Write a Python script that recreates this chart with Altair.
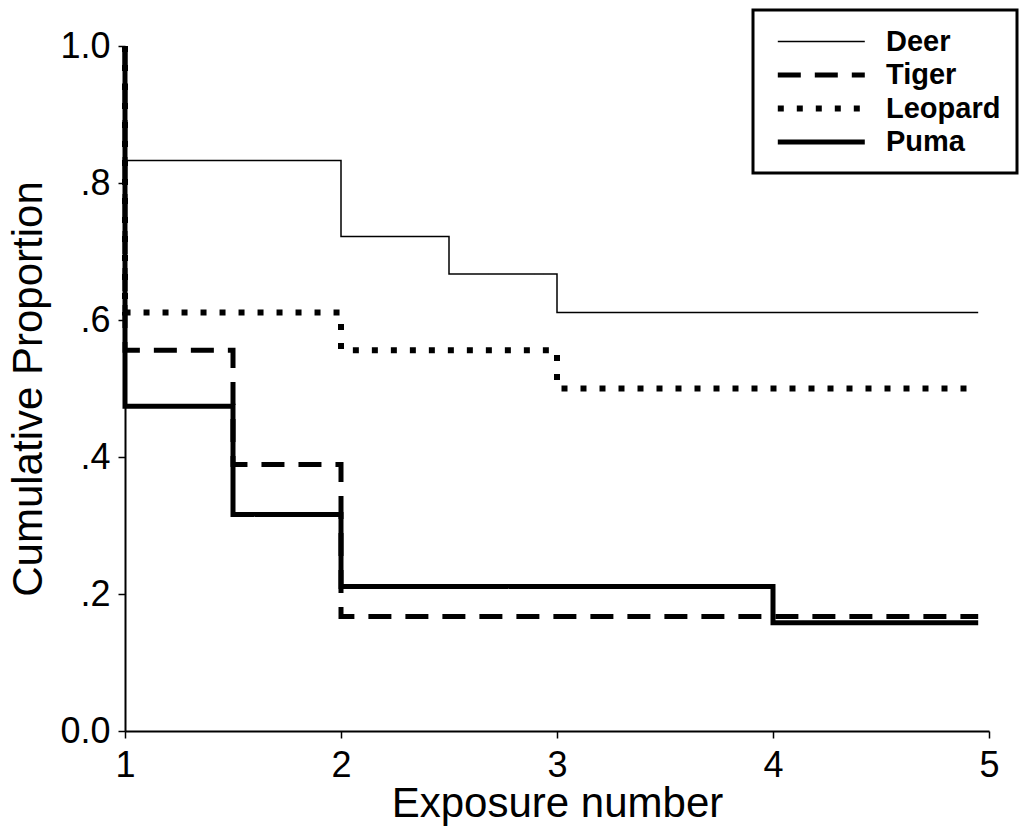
import altair as alt
import pandas as pd

# ---- data ----
series = ["Deer", "Tiger", "Leopard", "Puma"]

deer_x = [1, 1, 2, 2.5, 3, 4.95]
deer_y = [1.0, 0.833, 0.722, 0.667, 0.611, 0.611]

tiger_x = [1, 1, 1.5, 2, 4.95]
tiger_y = [1.0, 0.556, 0.389, 0.167, 0.167]

leopard_x = [1, 1, 2, 3, 4.95]
leopard_y = [1.0, 0.611, 0.556, 0.5, 0.5]

puma_x = [1, 1, 1.5, 2, 4, 4.95]
puma_y = [1.0, 0.474, 0.316, 0.211, 0.158, 0.158]

x_ticks = [1, 2, 3, 4, 5]
y_ticks = [0.0, 0.2, 0.4, 0.6, 0.8, 1.0]

rows = []
for name, xs, ys in [("Deer", deer_x, deer_y), ("Tiger", tiger_x, tiger_y),
                     ("Leopard", leopard_x, leopard_y), ("Puma", puma_x, puma_y)]:
    for i, (a, b) in enumerate(zip(xs, ys)):
        rows.append({"animal": name, "x": a, "y": b, "idx": i})
df = pd.DataFrame(rows)

FONT = "Liberation Sans"

dash_range = [[1, 0], [23, 14], [6, 13], [1, 0]]
width_range = [1.5, 5, 6, 5]

chart = alt.Chart(df).mark_line(interpolate="step-after", color="black", strokeCap="butt").encode(
    x=alt.X("x:Q", scale=alt.Scale(domain=[1, 5], nice=False, zero=False),
            axis=alt.Axis(values=x_ticks, title="Exposure number", format="d",
                          labelFlush=False,
                          titleY=85, titleBaseline="alphabetic")),
    y=alt.Y("y:Q", scale=alt.Scale(domain=[0, 1], nice=False, zero=False),
            axis=alt.Axis(values=y_ticks, title="Cumulative Proportion",
                          labelFlush=False,
                          labelExpr="datum.value == 0 ? '0.0' : (datum.value == 1 ? '1.0' : '.' + format(datum.value * 10, 'd'))",
                          titleX=-84, titleY=342.5, titleBaseline="alphabetic", titleAngle=270)),
    strokeDash=alt.StrokeDash("animal:N", scale=alt.Scale(domain=series, range=dash_range),
                              legend=alt.Legend(title=None)),
    strokeWidth=alt.StrokeWidth("animal:N", scale=alt.Scale(type="ordinal", domain=series, range=width_range),
                                legend=alt.Legend(title=None)),
    detail="animal:N",
    order="idx:Q",
).properties(
    width=864, height=685,
    autosize=alt.AutoSizeParams(type="none"),
    padding={"left": 125, "top": 46, "right": 37, "bottom": 108},
).configure_view(stroke=None).configure_axis(
    domainColor="black", domainWidth=2, tickColor="black", tickWidth=1.5, tickSize=7,
    labelFont=FONT, labelFontSize=36, labelColor="black",
    titleFont=FONT, titleFontSize=42, titleColor="black", titleFontWeight="normal",
    grid=False,
).configure_axisX(labelPadding=10, labelAngle=0).configure_axisY(labelPadding=8).configure_legend(
    orient="none", legendX=628, legendY=-36,
    strokeColor="black", strokeWidth=3, padding=16,
    symbolType="M-0.6,0H5.4", symbolSize=841, symbolStrokeColor="black", symbolFillColor="transparent",
    labelFont=FONT, labelFontSize=29, labelFontWeight="bold", labelColor="black",
    labelOffset=82, rowPadding=1, fillColor="white",
)

chart.save("out.html", embed_options={"renderer": "svg", "actions": False})
